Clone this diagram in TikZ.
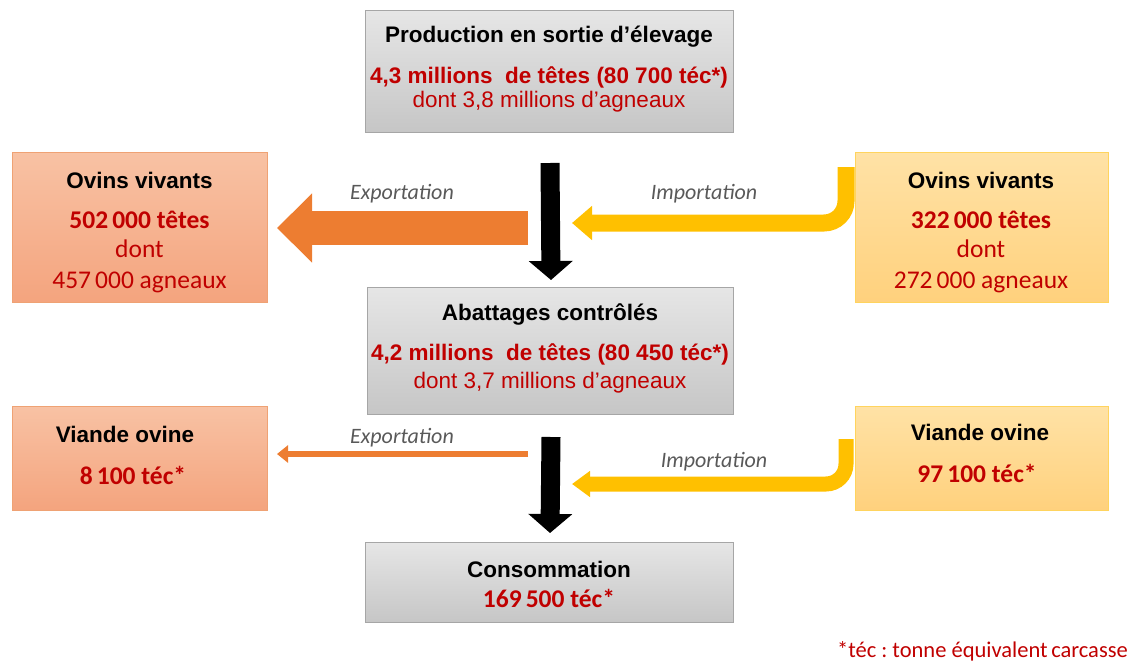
\documentclass[tikz,border=0pt]{standalone}
\usepackage{fontspec}
\setmainfont{Liberation Sans}
\newfontfamily\carl{Carlito}
\usetikzlibrary{arrows.meta,calc}
\definecolor{txtred}{HTML}{C00000}
\definecolor{labgray}{HTML}{595959}
\definecolor{grayT}{HTML}{E6E6E6}
\definecolor{grayB}{HTML}{C6C6C6}
\definecolor{grayD}{HTML}{A6A6A6}
\definecolor{salT}{HTML}{F8C2A4}
\definecolor{salB}{HTML}{F4A47E}
\definecolor{salD}{HTML}{EFA274}
\definecolor{yelT}{HTML}{FFE2A6}
\definecolor{yelB}{HTML}{FFD17D}
\definecolor{yelD}{HTML}{FFD45E}
\definecolor{arrOr}{HTML}{ED7D31}
\definecolor{arrYe}{HTML}{FFC000}
\frenchspacing
\begin{document}
\begin{tikzpicture}[x=1pt,y=-1pt,
  box/.style={draw, line width=0.8pt, anchor=north west, inner sep=0pt, outer sep=0pt},
  graybox/.style={box, draw=grayD, top color=grayT, bottom color=grayB},
  salbox/.style={box, draw=salD, top color=salT, bottom color=salB},
  yelbox/.style={box, draw=yelD, top color=yelT, bottom color=yelB},
  txt/.style={anchor=base, inner sep=0pt},
  head/.style={txt, font=\fontsize{22.5}{27}\selectfont\bfseries},
  redb/.style={txt, text=txtred, font=\fontsize{22.5}{27}\selectfont\bfseries},
  redr/.style={txt, text=txtred, font=\fontsize{22.5}{27}\selectfont},
  cb/.style={txt, text=txtred, font=\carl\fontsize{25.5}{30}\selectfont\bfseries},
  cr/.style={txt, text=txtred, font=\carl\fontsize{25.5}{30}\selectfont},
  lab/.style={txt, text=labgray, font=\carl\fontsize{22}{26}\selectfont\itshape},
  downarrow/.style={draw=black, line width=19pt, -{Triangle[length=19pt,width=43pt]}},
  bigexport/.style={draw=arrOr, line width=34pt, -{Triangle[length=35pt,width=67pt]}},
  smallexport/.style={draw=arrOr, line width=6pt, -{Triangle[length=11pt,width=17pt]}},
  import/.style={draw=arrYe, line width=17pt, rounded corners=22pt, -{Triangle[length=20pt,width=33pt]}},
  smallimport/.style={draw=arrYe, line width=15pt, rounded corners=20pt, -{Triangle[length=18pt,width=25pt]}}
]
\useasboundingbox (0,0) rectangle (1133,664);

% boxes
\node[graybox, minimum width=368pt, minimum height=122pt] (prod) at (365,10) {};
\node[graybox, minimum width=366pt, minimum height=127pt] (abat) at (367,287) {};
\node[graybox, minimum width=368pt, minimum height=80pt] (cons) at (365,542) {};
\node[salbox, minimum width=255pt, minimum height=150pt] (lv1) at (12,152) {};
\node[yelbox, minimum width=253pt, minimum height=150pt] (rv1) at (855,152) {};
\node[salbox, minimum width=255pt, minimum height=104pt] (lv2) at (12,406) {};
\node[yelbox, minimum width=253pt, minimum height=104pt] (rv2) at (855,406) {};

% texts top box
\node[head] (prodA) at (549,42) {Production en sortie d’élevage};
\node[redb] (prodB) at (549,83) {4,3 millions\ \ de têtes (80 700 téc*)};
\node[redr] (prodC) at (549,107) {dont 3,8 millions d’agneaux};

% middle box
\node[head] (abatA) at (550,320) {Abattages contrôlés};
\node[redb] (abatB) at (550,360) {4,2 millions\ \ de têtes (80 450 téc*)};
\node[redr] (abatC) at (550,388) {dont 3,7 millions d’agneaux};

% bottom box
\node[head] (consA) at (549,577) {Consommation};
\node[cb] (consB) at (549,607) {169\hspace{0.16em}500 téc*};

% left live
\node[head] (lv1A) at (139.5,188) {Ovins vivants};
\node[cb] (lv1B) at (139.5,228) {502\hspace{0.16em}000 têtes};
\node[cr] (lv1C) at (139.5,257) {dont};
\node[cr] (lv1D) at (139.5,288) {457\hspace{0.16em}000 agneaux};

% right live
\node[head] (rv1A) at (981,188) {Ovins vivants};
\node[cb] (rv1B) at (981,228) {322\hspace{0.16em}000 têtes};
\node[cr] (rv1C) at (981,257) {dont};
\node[cr] (rv1D) at (981,288) {272\hspace{0.16em}000 agneaux};

% meat boxes
\node[head] (lv2A) at (125,442) {Viande ovine};
\node[cb] (lv2B) at (133,484) {8\hspace{0.16em}100 téc*};
\node[head] (rv2A) at (980,440) {Viande ovine};
\node[cb] (rv2B) at (977,482) {97\hspace{0.16em}100 téc*};

% labels
\node[lab] (ex1) at (402,199) {Exportation};
\node[lab] (im1) at (704,199) {Importation};
\node[lab] (ex2) at (402,443) {Exportation};
\node[lab] (im2) at (714,467) {Importation};

% footnote
\node[txt, anchor=base east, text=txtred, font=\carl\fontsize{22.5}{27}\selectfont] (foot) at (1128,657) {*téc : tonne équivalent\hspace{0.16em}carcasse};

% connectors
\draw[downarrow] ($(prod.south)+(1,31)$) -- ($(abat.north)+(1,-7)$);
\draw[downarrow] ($(abat.south)+(1,23)$) -- ($(cons.north)+(1,-9)$);

\coordinate (e1s) at (528,228);
\draw[bigexport] (e1s) -- ($(lv1.east)+(10,1)$);
\coordinate (e2s) at (528,454);
\draw[smallexport] (e2s) -- ($(lv2.east|-e2s)+(10,0)$);

\coordinate (y1s) at ($(rv1.north west)+(-9,15)$);
\coordinate (y1e) at (572,223);
\draw[import] (y1s) |- (y1e);
\coordinate (y2s) at ($(rv2.north west)+(-9,33)$);
\coordinate (y2e) at (572,484);
\draw[smallimport] (y2s) |- (y2e);
\end{tikzpicture}
\end{document}
